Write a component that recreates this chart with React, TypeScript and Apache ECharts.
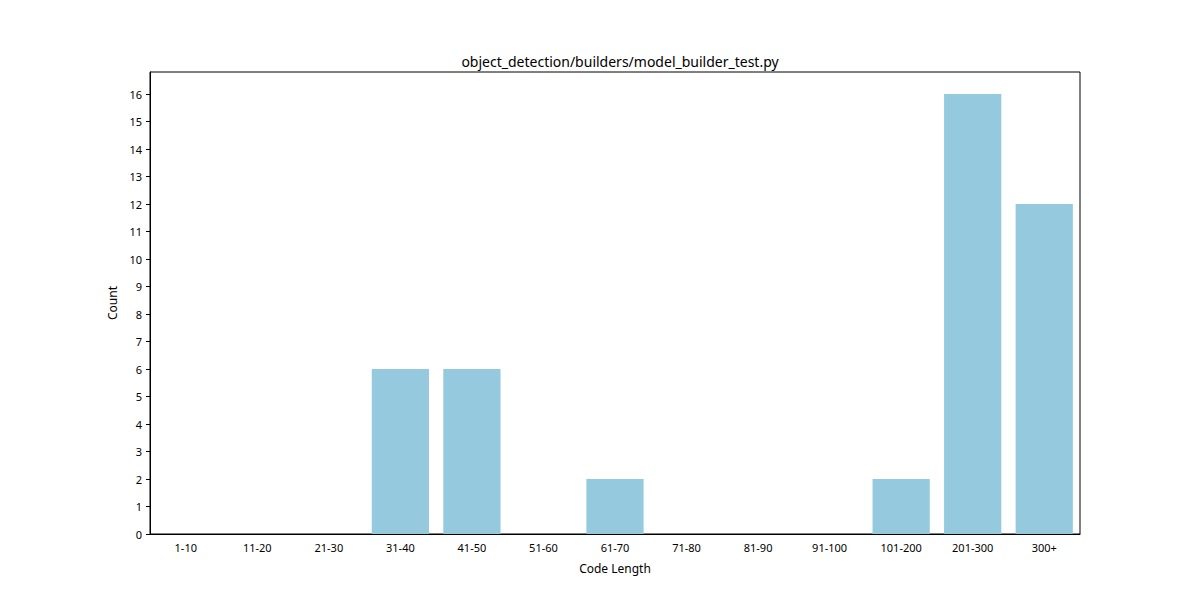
import React, { useEffect, useRef } from 'react';
import * as echarts from 'echarts';

const categories = ['1-10', '11-20', '21-30', '31-40', '41-50', '51-60', '61-70', '71-80', '81-90', '91-100', '101-200', '201-300', '300+'];
const counts = [0, 0, 0, 6, 6, 0, 2, 0, 0, 0, 2, 16, 12];

const App = () => {
  const chartRef = useRef<HTMLDivElement>(null);

  useEffect(() => {
    if (!chartRef.current) return;
    const chart = echarts.init(chartRef.current, undefined, { renderer: 'svg' });
    const font = 'Noto Sans';
    chart.setOption({
      animation: false,
      textStyle: { fontFamily: font },
      title: {
        text: 'object_detection/builders/model_builder_test.py',
        left: 615,
        top: 49,
        textAlign: 'center',
        textStyle: { fontSize: 14, fontWeight: 'normal', color: '#000', fontFamily: font },
      },
      grid: { left: 150, right: 120, top: 72, bottom: 66, show: true, borderColor: '#000', borderWidth: 1 },
      xAxis: {
        type: 'category',
        data: categories,
        name: 'Code Length',
        nameLocation: 'middle',
        nameGap: 28,
        nameTextStyle: { fontSize: 12, color: '#000' },
        axisLine: { lineStyle: { color: '#000' } },
        axisTick: { alignWithLabel: true, length: 4, lineStyle: { color: '#000' } },
        axisLabel: { fontSize: 11, color: '#000', interval: 0, margin: 8 },
      },
      yAxis: {
        type: 'value',
        min: 0,
        max: 16.8,
        interval: 1,
        name: 'Count',
        nameLocation: 'middle',
        nameGap: 30,
        nameTextStyle: { fontSize: 12, color: '#000' },
        splitLine: { show: false },
        axisLine: { show: true, lineStyle: { color: '#000' } },
        axisTick: { show: true, length: 4, lineStyle: { color: '#000' } },
        axisLabel: {
          fontSize: 11,
          color: '#000',
          showMaxLabel: false,
          formatter: (v: number) => (Number.isInteger(v) ? String(v) : ''),
        },
      },
      series: [
        {
          type: 'bar',
          data: counts,
          barWidth: '80%',
          itemStyle: { color: '#95c9dd' },
        },
      ],
    });
    return () => chart.dispose();
  }, []);

  return <div ref={chartRef} style={{ position: 'absolute', left: 0, top: 0, width: 1200, height: 600, background: '#fff' }} />;
};

export default App;
